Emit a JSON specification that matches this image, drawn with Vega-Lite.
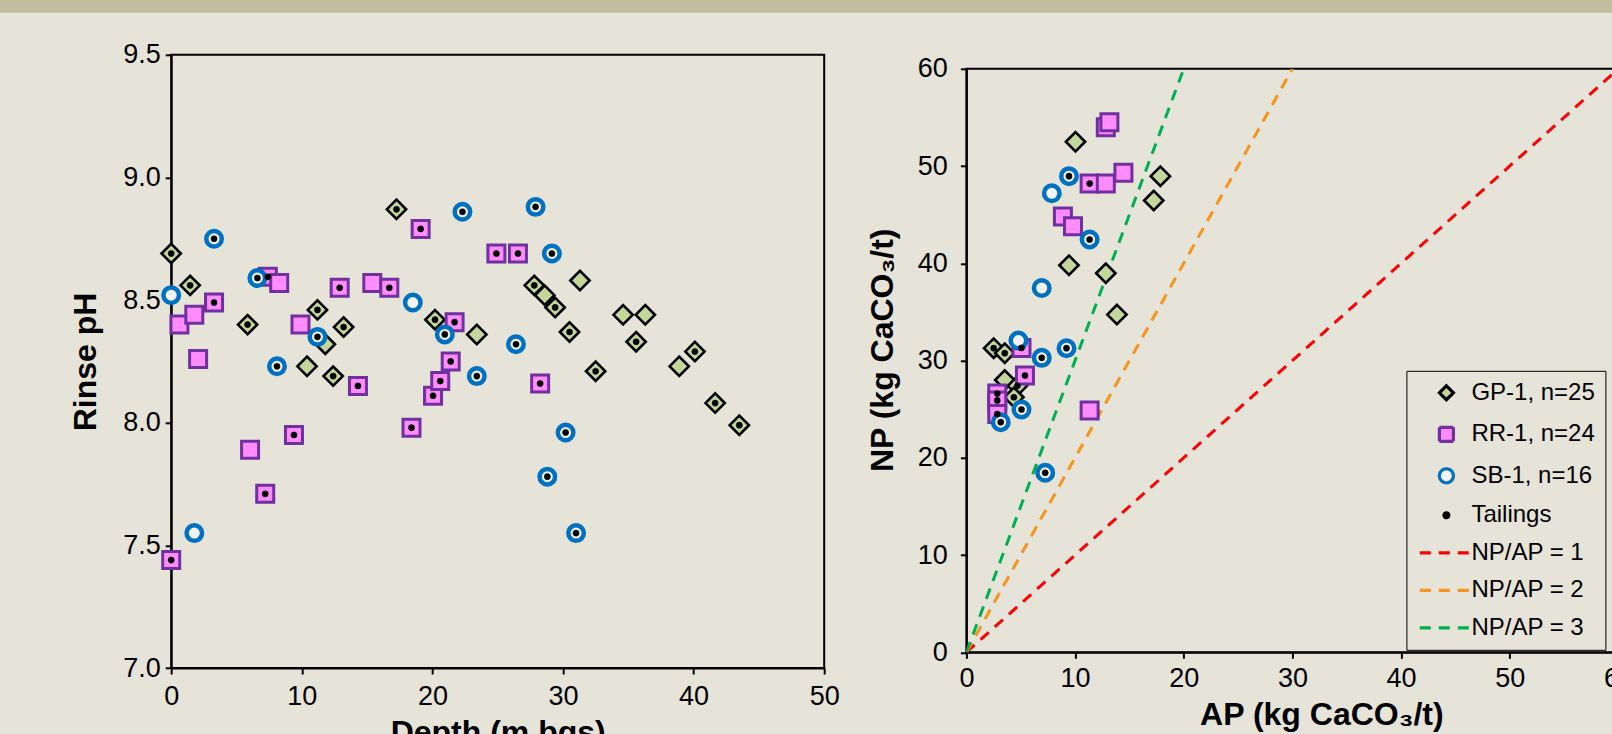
{
"$schema": "https://vega.github.io/schema/vega-lite/v6.json",
"background": "#e6e3d8",
"padding": 0,
"config": {
  "font": "Liberation Sans",
  "view": {"stroke": null},
  "axis": {"domainColor": "#000", "domainWidth": 2, "tickColor": "#000", "tickWidth": 2, "tickSize": 6, "labelFont": "Liberation Sans", "labelFontSize": 27, "labelColor": "#000", "titleFont": "Liberation Sans", "titleFontSize": 32, "titleFontWeight": "bold", "titleColor": "#000", "grid": false, "labelOverlap": false, "labelFlush": false},
  "legend": {"orient": "none", "legendX": 440, "legendY": 302, "padding": 10, "strokeColor": "#000", "fillColor": "#e6e3d8", "labelFont": "Liberation Sans", "labelFontSize": 24, "labelColor": "#000", "labelOffset": 13, "rowPadding": 13.5, "symbolOffset": 18, "symbolSize": 196, "symbolStrokeWidth": 3.2, "symbolFillColor": "transparent"}
},
"datasets": {
  "ph": [
    {"s": "GP-1, n=25", "d": 0, "ph": 8.69, "tl": "Tailings"},
    {"s": "GP-1, n=25", "d": 1.45, "ph": 8.56, "tl": "Tailings"},
    {"s": "GP-1, n=25", "d": 5.85, "ph": 8.40, "tl": "Tailings"},
    {"s": "GP-1, n=25", "d": 11.2, "ph": 8.46, "tl": "Tailings"},
    {"s": "GP-1, n=25", "d": 11.8, "ph": 8.32, "tl": null},
    {"s": "GP-1, n=25", "d": 10.4, "ph": 8.23, "tl": null},
    {"s": "GP-1, n=25", "d": 12.4, "ph": 8.19, "tl": "Tailings"},
    {"s": "GP-1, n=25", "d": 13.2, "ph": 8.39, "tl": "Tailings"},
    {"s": "GP-1, n=25", "d": 17.25, "ph": 8.87, "tl": "Tailings"},
    {"s": "GP-1, n=25", "d": 20.2, "ph": 8.42, "tl": "Tailings"},
    {"s": "GP-1, n=25", "d": 23.4, "ph": 8.36, "tl": null},
    {"s": "GP-1, n=25", "d": 27.8, "ph": 8.56, "tl": "Tailings"},
    {"s": "GP-1, n=25", "d": 28.6, "ph": 8.52, "tl": null},
    {"s": "GP-1, n=25", "d": 29.4, "ph": 8.47, "tl": "Tailings"},
    {"s": "GP-1, n=25", "d": 31.3, "ph": 8.58, "tl": null},
    {"s": "GP-1, n=25", "d": 30.5, "ph": 8.37, "tl": "Tailings"},
    {"s": "GP-1, n=25", "d": 32.5, "ph": 8.21, "tl": "Tailings"},
    {"s": "GP-1, n=25", "d": 34.6, "ph": 8.44, "tl": null},
    {"s": "GP-1, n=25", "d": 36.3, "ph": 8.44, "tl": null},
    {"s": "GP-1, n=25", "d": 35.6, "ph": 8.33, "tl": "Tailings"},
    {"s": "GP-1, n=25", "d": 38.9, "ph": 8.23, "tl": null},
    {"s": "GP-1, n=25", "d": 40.1, "ph": 8.29, "tl": "Tailings"},
    {"s": "GP-1, n=25", "d": 41.65, "ph": 8.08, "tl": "Tailings"},
    {"s": "GP-1, n=25", "d": 43.5, "ph": 7.99, "tl": "Tailings"},
    {"s": "RR-1, n=24", "d": 0, "ph": 7.44, "tl": "Tailings"},
    {"s": "RR-1, n=24", "d": 0.63, "ph": 8.40, "tl": null},
    {"s": "RR-1, n=24", "d": 1.77, "ph": 8.44, "tl": null},
    {"s": "RR-1, n=24", "d": 2.06, "ph": 8.26, "tl": null},
    {"s": "RR-1, n=24", "d": 3.28, "ph": 8.49, "tl": "Tailings"},
    {"s": "RR-1, n=24", "d": 6.04, "ph": 7.89, "tl": null},
    {"s": "RR-1, n=24", "d": 7.2, "ph": 7.71, "tl": "Tailings"},
    {"s": "RR-1, n=24", "d": 9.4, "ph": 7.95, "tl": "Tailings"},
    {"s": "RR-1, n=24", "d": 7.4, "ph": 8.595, "tl": "Tailings"},
    {"s": "RR-1, n=24", "d": 8.27, "ph": 8.57, "tl": null},
    {"s": "RR-1, n=24", "d": 9.9, "ph": 8.40, "tl": null},
    {"s": "RR-1, n=24", "d": 12.9, "ph": 8.55, "tl": "Tailings"},
    {"s": "RR-1, n=24", "d": 14.3, "ph": 8.15, "tl": "Tailings"},
    {"s": "RR-1, n=24", "d": 15.4, "ph": 8.57, "tl": null},
    {"s": "RR-1, n=24", "d": 16.7, "ph": 8.55, "tl": "Tailings"},
    {"s": "RR-1, n=24", "d": 19.1, "ph": 8.79, "tl": "Tailings"},
    {"s": "RR-1, n=24", "d": 18.4, "ph": 7.98, "tl": "Tailings"},
    {"s": "RR-1, n=24", "d": 20.05, "ph": 8.11, "tl": "Tailings"},
    {"s": "RR-1, n=24", "d": 20.6, "ph": 8.17, "tl": "Tailings"},
    {"s": "RR-1, n=24", "d": 21.4, "ph": 8.25, "tl": "Tailings"},
    {"s": "RR-1, n=24", "d": 21.7, "ph": 8.41, "tl": "Tailings"},
    {"s": "RR-1, n=24", "d": 24.9, "ph": 8.69, "tl": "Tailings"},
    {"s": "RR-1, n=24", "d": 26.55, "ph": 8.69, "tl": "Tailings"},
    {"s": "RR-1, n=24", "d": 28.25, "ph": 8.16, "tl": "Tailings"},
    {"s": "SB-1, n=16", "d": 0, "ph": 8.52, "tl": null},
    {"s": "SB-1, n=16", "d": 1.77, "ph": 7.55, "tl": null},
    {"s": "SB-1, n=16", "d": 3.28, "ph": 8.75, "tl": "Tailings"},
    {"s": "SB-1, n=16", "d": 6.6, "ph": 8.59, "tl": "Tailings"},
    {"s": "SB-1, n=16", "d": 8.1, "ph": 8.23, "tl": "Tailings"},
    {"s": "SB-1, n=16", "d": 11.2, "ph": 8.35, "tl": "Tailings"},
    {"s": "SB-1, n=16", "d": 18.5, "ph": 8.49, "tl": null},
    {"s": "SB-1, n=16", "d": 20.95, "ph": 8.36, "tl": "Tailings"},
    {"s": "SB-1, n=16", "d": 22.3, "ph": 8.86, "tl": "Tailings"},
    {"s": "SB-1, n=16", "d": 23.4, "ph": 8.19, "tl": "Tailings"},
    {"s": "SB-1, n=16", "d": 26.4, "ph": 8.32, "tl": "Tailings"},
    {"s": "SB-1, n=16", "d": 27.9, "ph": 8.88, "tl": "Tailings"},
    {"s": "SB-1, n=16", "d": 29.15, "ph": 8.69, "tl": "Tailings"},
    {"s": "SB-1, n=16", "d": 30.2, "ph": 7.96, "tl": "Tailings"},
    {"s": "SB-1, n=16", "d": 28.8, "ph": 7.78, "tl": "Tailings"},
    {"s": "SB-1, n=16", "d": 31.0, "ph": 7.55, "tl": "Tailings"}
  ],
  "abp": [
    {"s": "GP-1, n=25", "ap": 10.04, "np": 52.5, "tl": null},
    {"s": "GP-1, n=25", "ap": 17.85, "np": 48.96, "tl": null},
    {"s": "GP-1, n=25", "ap": 17.24, "np": 46.46, "tl": null},
    {"s": "GP-1, n=25", "ap": 9.44, "np": 39.8, "tl": null},
    {"s": "GP-1, n=25", "ap": 12.83, "np": 38.98, "tl": null},
    {"s": "GP-1, n=25", "ap": 13.85, "np": 34.73, "tl": null},
    {"s": "GP-1, n=25", "ap": 2.51, "np": 31.27, "tl": "Tailings"},
    {"s": "GP-1, n=25", "ap": 3.53, "np": 30.76, "tl": "Tailings"},
    {"s": "GP-1, n=25", "ap": 3.53, "np": 28.0, "tl": null},
    {"s": "GP-1, n=25", "ap": 4.7, "np": 27.4, "tl": "Tailings"},
    {"s": "GP-1, n=25", "ap": 4.37, "np": 26.23, "tl": "Tailings"},
    {"s": "RR-1, n=24", "ap": 12.83, "np": 54.0, "tl": null},
    {"s": "RR-1, n=24", "ap": 13.16, "np": 54.5, "tl": null},
    {"s": "RR-1, n=24", "ap": 11.34, "np": 48.2, "tl": "Tailings"},
    {"s": "RR-1, n=24", "ap": 12.83, "np": 48.2, "tl": null},
    {"s": "RR-1, n=24", "ap": 14.45, "np": 49.3, "tl": null},
    {"s": "RR-1, n=24", "ap": 8.88, "np": 44.8, "tl": null},
    {"s": "RR-1, n=24", "ap": 9.81, "np": 43.8, "tl": null},
    {"s": "RR-1, n=24", "ap": 5.07, "np": 31.3, "tl": "Tailings"},
    {"s": "RR-1, n=24", "ap": 5.39, "np": 28.46, "tl": "Tailings"},
    {"s": "RR-1, n=24", "ap": 2.84, "np": 26.6, "tl": "Tailings"},
    {"s": "RR-1, n=24", "ap": 2.84, "np": 25.9, "tl": "Tailings"},
    {"s": "RR-1, n=24", "ap": 2.84, "np": 24.5, "tl": "Tailings"},
    {"s": "RR-1, n=24", "ap": 11.34, "np": 24.87, "tl": null},
    {"s": "SB-1, n=16", "ap": 9.44, "np": 48.96, "tl": "Tailings"},
    {"s": "SB-1, n=16", "ap": 7.86, "np": 47.2, "tl": null},
    {"s": "SB-1, n=16", "ap": 11.34, "np": 42.45, "tl": "Tailings"},
    {"s": "SB-1, n=16", "ap": 6.93, "np": 37.46, "tl": null},
    {"s": "SB-1, n=16", "ap": 4.79, "np": 32.06, "tl": null},
    {"s": "SB-1, n=16", "ap": 6.93, "np": 30.28, "tl": "Tailings"},
    {"s": "SB-1, n=16", "ap": 9.21, "np": 31.27, "tl": "Tailings"},
    {"s": "SB-1, n=16", "ap": 5.07, "np": 24.97, "tl": "Tailings"},
    {"s": "SB-1, n=16", "ap": 3.16, "np": 23.66, "tl": "Tailings"},
    {"s": "SB-1, n=16", "ap": 7.25, "np": 18.46, "tl": "Tailings"}
  ],
  "ratio": [
    {"s": "NP/AP = 1", "ap": 0, "np": 0},
    {"s": "NP/AP = 1", "ap": 60, "np": 60},
    {"s": "NP/AP = 2", "ap": 0, "np": 0},
    {"s": "NP/AP = 2", "ap": 30, "np": 60},
    {"s": "NP/AP = 3", "ap": 0, "np": 0},
    {"s": "NP/AP = 3", "ap": 20, "np": 60}
  ]
},
"vconcat": [
  {
    "width": 1612, "height": 12.7,
    "data": {"values": [{"k": 1}]},
    "mark": {"type": "point", "opacity": 0},
    "view": {"fill": "#c3bd9f", "stroke": null}
  },
  {
    "hconcat": [
      {
        "width": 28.5, "height": 613.2,
        "data": {"values": [{"k": 1}]},
        "mark": {"type": "point", "opacity": 0}
      },
      {
        "width": 653, "height": 613.2,
        "view": {"stroke": "#000", "strokeWidth": 2},
        "data": {"name": "ph"},
        "encoding": {
          "x": {"field": "d", "type": "quantitative", "scale": {"domain": [0, 50], "nice": false, "zero": false},
                "axis": {"values": [0, 10, 20, 30, 40, 50], "title": "Depth (m bgs)", "labelPadding": 9, "titlePadding": 8}},
          "y": {"field": "ph", "type": "quantitative", "scale": {"domain": [7, 9.5], "nice": false, "zero": false},
                "axis": {"values": [7, 7.5, 8, 8.5, 9, 9.5], "format": ".1f", "title": "Rinse pH", "labelPadding": 5, "titlePadding": 20}}
        },
        "layer": [
          {"transform": [{"filter": "datum.s == 'GP-1, n=25'"}],
           "mark": {"type": "point", "filled": true, "opacity": 1, "shape": "diamond", "size": 372, "fill": "#c4d79b", "stroke": "#000000", "strokeWidth": 2.6}},
          {"transform": [{"filter": "datum.s == 'RR-1, n=24'"}],
           "mark": {"type": "point", "filled": true, "opacity": 1, "shape": "square", "size": 289, "fill": "#ff8cff", "stroke": "#7030a0", "strokeWidth": 3}},
          {"transform": [{"filter": "datum.s == 'SB-1, n=16'"}],
           "mark": {"type": "point", "filled": true, "opacity": 1, "shape": "circle", "size": 240, "fill": "#f2f2f2", "stroke": "#0070c0", "strokeWidth": 4.5}},
          {"transform": [{"filter": "datum.tl != null"}],
           "mark": {"type": "point", "filled": true, "opacity": 1, "shape": "circle", "size": 38, "fill": "#000000", "stroke": "#000000", "strokeWidth": 0.5}}
        ]
      },
      {
        "vconcat": [
          {
            "width": 652, "height": 13.4,
            "data": {"values": [{"k": 1}]},
            "mark": {"type": "point", "opacity": 0}
          },
          {
            "width": 652, "height": 583.5,
            "view": {"stroke": "#000", "strokeWidth": 2},
            "encoding": {
              "x": {"field": "ap", "type": "quantitative", "scale": {"domain": [0, 60], "nice": false, "zero": false},
                    "axis": {"values": [0, 10, 20, 30, 40, 50, 60], "title": "AP (kg CaCO₃/t)", "labelPadding": 7, "titlePadding": 8, "titleX": 355}},
              "y": {"field": "np", "type": "quantitative", "scale": {"domain": [0, 60], "nice": false, "zero": false},
                    "axis": {"values": [0, 10, 20, 30, 40, 50, 60], "title": "NP (kg CaCO₃/t)", "labelPadding": 13, "titlePadding": 18, "titleY": 281}}
            },
            "layer": [
              {"data": {"name": "ratio"},
               "mark": {"type": "line", "clip": true, "strokeWidth": 3},
               "encoding": {
                 "stroke": {"field": "s", "type": "nominal", "legend": {"title": null},
                            "scale": {"domain": ["GP-1, n=25", "RR-1, n=24", "SB-1, n=16", "Tailings", "NP/AP = 1", "NP/AP = 2", "NP/AP = 3"], "range": ["#000000", "#7030a0", "#0070c0", "#000000", "#ff0000", "#f7941d", "#00b050"]}},
                 "strokeDash": {"field": "s", "type": "nominal", "legend": {"title": null},
                            "scale": {"domain": ["GP-1, n=25", "RR-1, n=24", "SB-1, n=16", "Tailings", "NP/AP = 1", "NP/AP = 2", "NP/AP = 3"], "range": [[1, 0], [1, 0], [1, 0], [1, 0], [11, 8], [11, 8], [11, 8]]}}
               }},
              {"data": {"name": "abp"}, "transform": [{"filter": "datum.s == 'GP-1, n=25'"}],
               "mark": {"type": "point", "filled": true, "opacity": 1, "size": 372, "strokeWidth": 2.6},
               "encoding": {
                 "shape": {"field": "s", "type": "nominal", "legend": {"title": null}, "scale": {"domain": ["GP-1, n=25", "RR-1, n=24", "SB-1, n=16", "Tailings", "NP/AP = 1", "NP/AP = 2", "NP/AP = 3"], "range": ["diamond", "square", "circle", "M-0.35,0A0.35,0.35,0,1,1,0.35,0A0.35,0.35,0,1,1,-0.35,0Z", "M-3.8,0H3.8", "M-3.8,0H3.8", "M-3.8,0H3.8"]}},
                 "fill": {"field": "s", "type": "nominal", "legend": {"title": null}, "scale": {"domain": ["GP-1, n=25", "RR-1, n=24", "SB-1, n=16", "Tailings", "NP/AP = 1", "NP/AP = 2", "NP/AP = 3"], "range": ["#c4d79b", "#ff8cff", "#f2f2f2", "#000000", "transparent", "transparent", "transparent"]}},
                 "stroke": {"field": "s", "type": "nominal", "legend": {"title": null}}
               }},
              {"data": {"name": "abp"}, "transform": [{"filter": "datum.s == 'RR-1, n=24'"}],
               "mark": {"type": "point", "filled": true, "opacity": 1, "size": 289, "strokeWidth": 3},
               "encoding": {
                 "shape": {"field": "s", "type": "nominal", "legend": {"title": null}},
                 "fill": {"field": "s", "type": "nominal", "legend": {"title": null}},
                 "stroke": {"field": "s", "type": "nominal", "legend": {"title": null}}
               }},
              {"data": {"name": "abp"}, "transform": [{"filter": "datum.s == 'SB-1, n=16'"}],
               "mark": {"type": "point", "filled": true, "opacity": 1, "size": 240, "strokeWidth": 4.5},
               "encoding": {
                 "shape": {"field": "s", "type": "nominal", "legend": {"title": null}},
                 "fill": {"field": "s", "type": "nominal", "legend": {"title": null}},
                 "stroke": {"field": "s", "type": "nominal", "legend": {"title": null}}
               }},
              {"data": {"name": "abp"}, "transform": [{"filter": "datum.tl != null"}],
               "mark": {"type": "point", "filled": true, "opacity": 1, "shape": "circle", "size": 38, "fill": "#000000", "stroke": "#000000", "strokeWidth": 0.5}}
            ]
          }
        ],
        "spacing": 0,
        "bounds": "flush",
        "resolve": {
          "scale": {"shape": "independent", "fill": "independent", "stroke": "independent", "strokeDash": "independent"},
          "legend": {"shape": "independent", "fill": "independent", "stroke": "independent", "strokeDash": "independent"}
        }
      }
    ],
    "spacing": 142.2,
    "bounds": "flush",
    "resolve": {
      "scale": {"shape": "independent", "fill": "independent", "stroke": "independent", "strokeDash": "independent"},
      "legend": {"shape": "independent", "fill": "independent", "stroke": "independent", "strokeDash": "independent"}
    }
  }
],
"spacing": 41.8,
"bounds": "flush"
}
